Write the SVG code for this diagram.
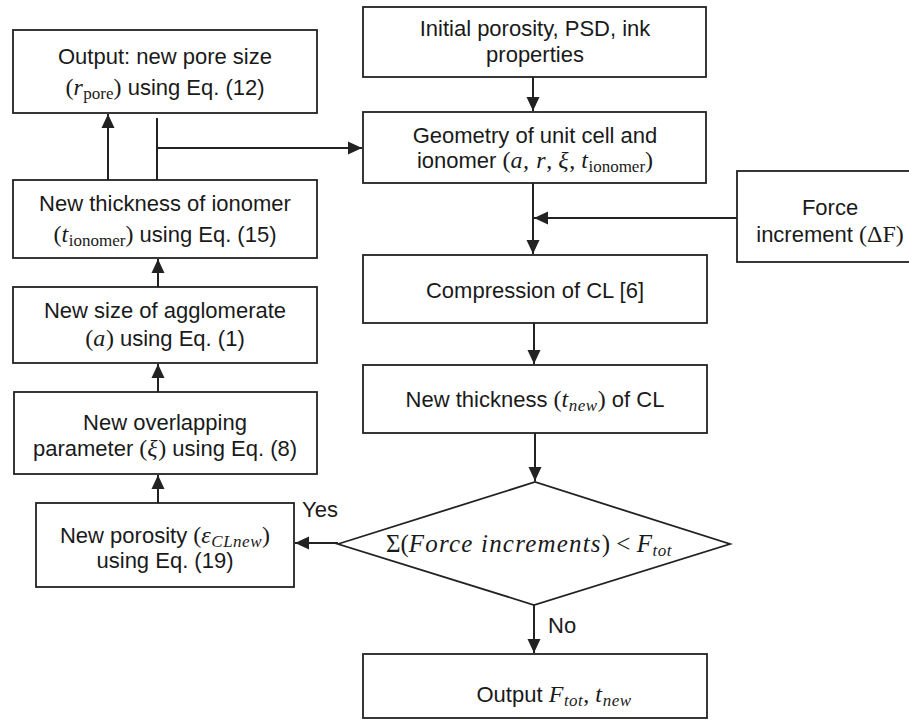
<svg xmlns="http://www.w3.org/2000/svg" width="909" height="720" viewBox="0 0 909 720">
<style>
.box{fill:#fff;stroke:#222;stroke-width:1.8}
.t{font-family:"Liberation Sans",Arial,sans-serif;font-size:22px;fill:#1a1a1a;text-anchor:middle}
.l{font-family:"Liberation Sans",Arial,sans-serif;font-size:22px;fill:#1a1a1a}
.m{font-family:"Liberation Serif","DejaVu Serif",serif;font-style:normal;font-size:24px}
.mi{font-family:"Liberation Serif","DejaVu Serif",serif;font-style:italic;font-size:24px;letter-spacing:0.6px}
.sub{font-family:"Liberation Serif","DejaVu Serif",serif;font-size:17px;font-style:normal}
.subi{font-family:"Liberation Serif","DejaVu Serif",serif;font-size:17px;font-style:italic;letter-spacing:0.5px}
.c{fill:none;stroke:#222;stroke-width:2}
</style>
<defs>
<marker id="ah" markerUnits="userSpaceOnUse" markerWidth="14" markerHeight="14" refX="14" refY="7" orient="auto">
<path d="M0,0.5 L14,7 L0,13.5 z" fill="#222"/>
</marker>
</defs>
<rect width="909" height="720" fill="#fff"/>

<g id="connectors">
<line class="c" x1="158" y1="503" x2="158" y2="475" marker-end="url(#ah)"/>
<line class="c" x1="158" y1="392" x2="158" y2="364" marker-end="url(#ah)"/>
<line class="c" x1="158" y1="287" x2="158" y2="259" marker-end="url(#ah)"/>
<line class="c" x1="108" y1="180" x2="108" y2="114" marker-end="url(#ah)"/>
<polyline class="c" points="157,118 157,180"/>
<line class="c" x1="157" y1="148" x2="362" y2="148" marker-end="url(#ah)"/>
<line class="c" x1="533" y1="77" x2="533" y2="111" marker-end="url(#ah)"/>
<line class="c" x1="533" y1="183" x2="533" y2="254" marker-end="url(#ah)"/>
<line class="c" x1="737" y1="218" x2="534" y2="218" marker-end="url(#ah)"/>
<line class="c" x1="534" y1="323" x2="534" y2="364" marker-end="url(#ah)"/>
<line class="c" x1="535" y1="433" x2="535" y2="481" marker-end="url(#ah)"/>
<line class="c" x1="534" y1="605" x2="534" y2="653" marker-end="url(#ah)"/>
<line class="c" x1="338" y1="543" x2="295" y2="543" marker-end="url(#ah)"/>
<text class="l" x="548" y="633">No</text>
<text class="l" x="302" y="517">Yes</text>
</g>

<g id="n-output-pore">
<rect class="box" x="13" y="30" width="304" height="83"/>
<text class="t" x="165" y="64">Output: new pore size</text>
<text class="t" x="165" y="95"><tspan class="m">(</tspan><tspan class="mi">r</tspan><tspan class="sub" dy="4">pore</tspan><tspan class="m" dy="-4">)</tspan> using Eq. (12)</text>
</g>

<g id="n-ionomer">
<rect class="box" x="13" y="180" width="304" height="78"/>
<text class="t" x="165" y="211">New thickness of ionomer</text>
<text class="t" x="165" y="242"><tspan class="m">(</tspan><tspan class="mi">t</tspan><tspan class="sub" dy="4">ionomer</tspan><tspan class="m" dy="-4">)</tspan> using Eq. (15)</text>
</g>

<g id="n-agglomerate">
<rect class="box" x="13" y="287" width="304" height="76"/>
<text class="t" x="165" y="318">New size of agglomerate</text>
<text class="t" x="165" y="346"><tspan class="m">(</tspan><tspan class="mi">a</tspan><tspan class="m">)</tspan> using Eq. (1)</text>
</g>

<g id="n-overlap">
<rect class="box" x="14" y="392" width="303" height="82"/>
<text class="t" x="165" y="430">New overlapping</text>
<text class="t" x="165" y="456">parameter <tspan class="m">(</tspan><tspan class="mi">ξ</tspan><tspan class="m">)</tspan> using Eq. (8)</text>
</g>

<g id="n-porosity">
<rect class="box" x="36" y="503" width="258" height="84"/>
<text class="t" x="165" y="543">New porosity <tspan class="m">(</tspan><tspan class="mi">ε</tspan><tspan class="subi" dy="4">CLnew</tspan><tspan class="m" dy="-4">)</tspan></text>
<text class="t" x="165" y="568">using Eq. (19)</text>
</g>

<g id="n-initial">
<rect class="box" x="363" y="7" width="343" height="70"/>
<text class="t" x="535" y="36">Initial porosity, PSD, ink</text>
<text class="t" x="535" y="62">properties</text>
</g>

<g id="n-geometry">
<rect class="box" x="363" y="112" width="343" height="71"/>
<text class="t" x="535" y="143">Geometry of unit cell and</text>
<text class="t" x="535" y="168">ionomer <tspan class="m">(</tspan><tspan class="mi">a, r</tspan><tspan class="m">, </tspan><tspan class="mi">ξ</tspan><tspan class="m">, </tspan><tspan class="mi">t</tspan><tspan class="sub" dy="4">ionomer</tspan><tspan class="m" dy="-4">)</tspan></text>
</g>

<g id="n-force">
<rect class="box" x="737" y="171" width="190" height="91"/>
<text class="t" x="830" y="215">Force</text>
<text class="t" x="830" y="242">increment <tspan class="m">(ΔF)</tspan></text>
</g>

<g id="n-compression">
<rect class="box" x="363" y="255" width="344" height="68"/>
<text class="t" x="535" y="298">Compression of CL [6]</text>
</g>

<g id="n-thickness">
<rect class="box" x="363" y="365" width="344" height="68"/>
<text class="t" x="535" y="407">New thickness <tspan class="m">(</tspan><tspan class="mi">t</tspan><tspan class="subi" dy="4">new</tspan><tspan class="m" dy="-4">)</tspan> of CL</text>
</g>

<g id="n-decision">
<polygon class="box" points="338,544 535,482 730,544 534,605"/>
<text class="t" x="529" y="552"><tspan class="m" style="font-size:25px">Σ(</tspan><tspan class="mi" style="font-size:25px;letter-spacing:1.2px">Force increments</tspan><tspan class="m" style="font-size:25px">) &lt; </tspan><tspan class="mi" style="font-size:25px">F</tspan><tspan class="subi" dy="4">tot</tspan></text>
</g>

<g id="n-output-final">
<rect class="box" x="363" y="654" width="344" height="64"/>
<text class="t" x="554" y="702">Output <tspan class="mi">F</tspan><tspan class="subi" dy="4">tot</tspan><tspan class="m" dy="-4">, </tspan><tspan class="mi">t</tspan><tspan class="subi" dy="4">new</tspan></text>
</g>
</svg>
